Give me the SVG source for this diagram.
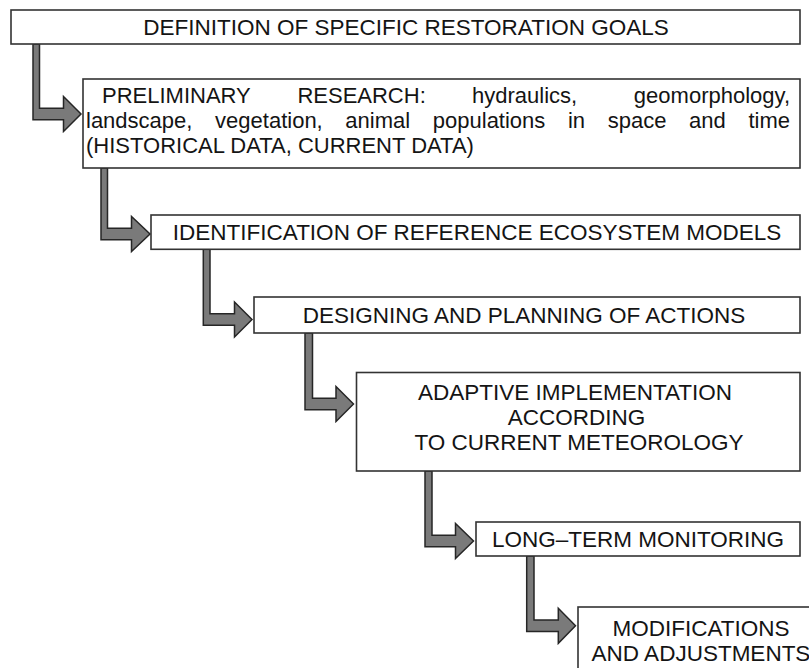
<svg xmlns="http://www.w3.org/2000/svg" width="809" height="668" viewBox="0 0 809 668">
<style>
.box{fill:#fff;stroke:#333;stroke-width:1.6}
.arr{fill:#7a7a7a;stroke:#262626;stroke-width:1.5;stroke-linejoin:miter}
text{font-family:"Liberation Sans",Arial,sans-serif;font-size:22.5px;fill:#141414}
.s{font-size:22px}
.c{text-anchor:middle}
.e{text-anchor:end}
</style>
<rect width="809" height="668" fill="#fff"/>
<g id="connectors">
<path class="arr" d="M33,44 L39.5,44 L39.5,108.2 L63.5,108.2 L63.5,96.5 L81,114 L63.5,131.5 L63.5,119.8 L33,119.8 Z"/>
<path class="arr" d="M101,168 L107.5,168 L107.5,228.2 L131.5,228.2 L131.5,216.5 L150,234 L131.5,251.5 L131.5,239.8 L101,239.8 Z"/>
<path class="arr" d="M203.3,249 L210,249 L210,313.7 L234.5,313.7 L234.5,302 L252,319.5 L234.5,337 L234.5,325.3 L203.3,325.3 Z"/>
<path class="arr" d="M305,333 L312.5,333 L312.5,398.2 L336,398.2 L336,386.5 L353.5,404 L336,421.5 L336,409.8 L305,409.8 Z"/>
<path class="arr" d="M425,471 L432,471 L432,535.2 L455.5,535.2 L455.5,523.5 L473.5,541 L455.5,558.5 L455.5,546.8 L425,546.8 Z"/>
<path class="arr" d="M526.7,556 L534,556 L534,620 L558.3,620 L558.3,608.3 L575.5,625.8 L558.3,643.3 L558.3,631.6 L526.7,631.6 Z"/>
</g>
<g id="n1">
<rect class="box" x="11" y="10" width="789" height="34"/>
<text class="c" x="406" y="35">DEFINITION OF SPECIFIC RESTORATION GOALS</text>
</g>
<g id="n2">
<rect class="box" x="83" y="79" width="717" height="89"/>
<text class="s" x="102" y="103">PRELIMINARY</text>
<text class="s" x="297.4" y="103">RESEARCH:</text>
<text class="s" x="472" y="103">hydraulics,</text>
<text class="s e" x="790" y="103">geomorphology,</text>
<text class="s" x="86" y="127.8">landscape,</text>
<text class="s" x="215.1" y="127.8">vegetation,</text>
<text class="s" x="345.3" y="127.8">animal</text>
<text class="s" x="432.8" y="127.8">populations</text>
<text class="s" x="567.9" y="127.8">in</text>
<text class="s" x="607.7" y="127.8">space</text>
<text class="s" x="689" y="127.8">and</text>
<text class="s e" x="790" y="127.8">time</text>
<text class="s" x="86" y="152.6">(HISTORICAL DATA, CURRENT DATA)</text>
</g>
<g id="n3">
<rect class="box" x="151" y="215" width="649" height="34.3"/>
<text class="c" x="477" y="240">IDENTIFICATION OF REFERENCE ECOSYSTEM MODELS</text>
</g>
<g id="n4">
<rect class="box" x="254" y="297" width="546" height="36"/>
<text class="c" x="524" y="323">DESIGNING AND PLANNING OF ACTIONS</text>
</g>
<g id="n5">
<rect class="box" x="356.5" y="372.5" width="443.5" height="98.5"/>
<text class="c" x="575" y="400">ADAPTIVE IMPLEMENTATION</text>
<text class="c" x="576.5" y="425.2">ACCORDING</text>
<text class="c" x="579" y="450.4">TO CURRENT METEOROLOGY</text>
</g>
<g id="n6">
<rect class="box" x="476" y="522" width="324" height="34"/>
<text class="c" x="638" y="547">LONG–TERM MONITORING</text>
</g>
<g id="n7">
<rect class="box" x="578" y="607" width="252" height="100"/>
<text class="c" x="701" y="636">MODIFICATIONS</text>
<text class="c" x="701" y="661.2">AND ADJUSTMENTS</text>
</g>
</svg>
